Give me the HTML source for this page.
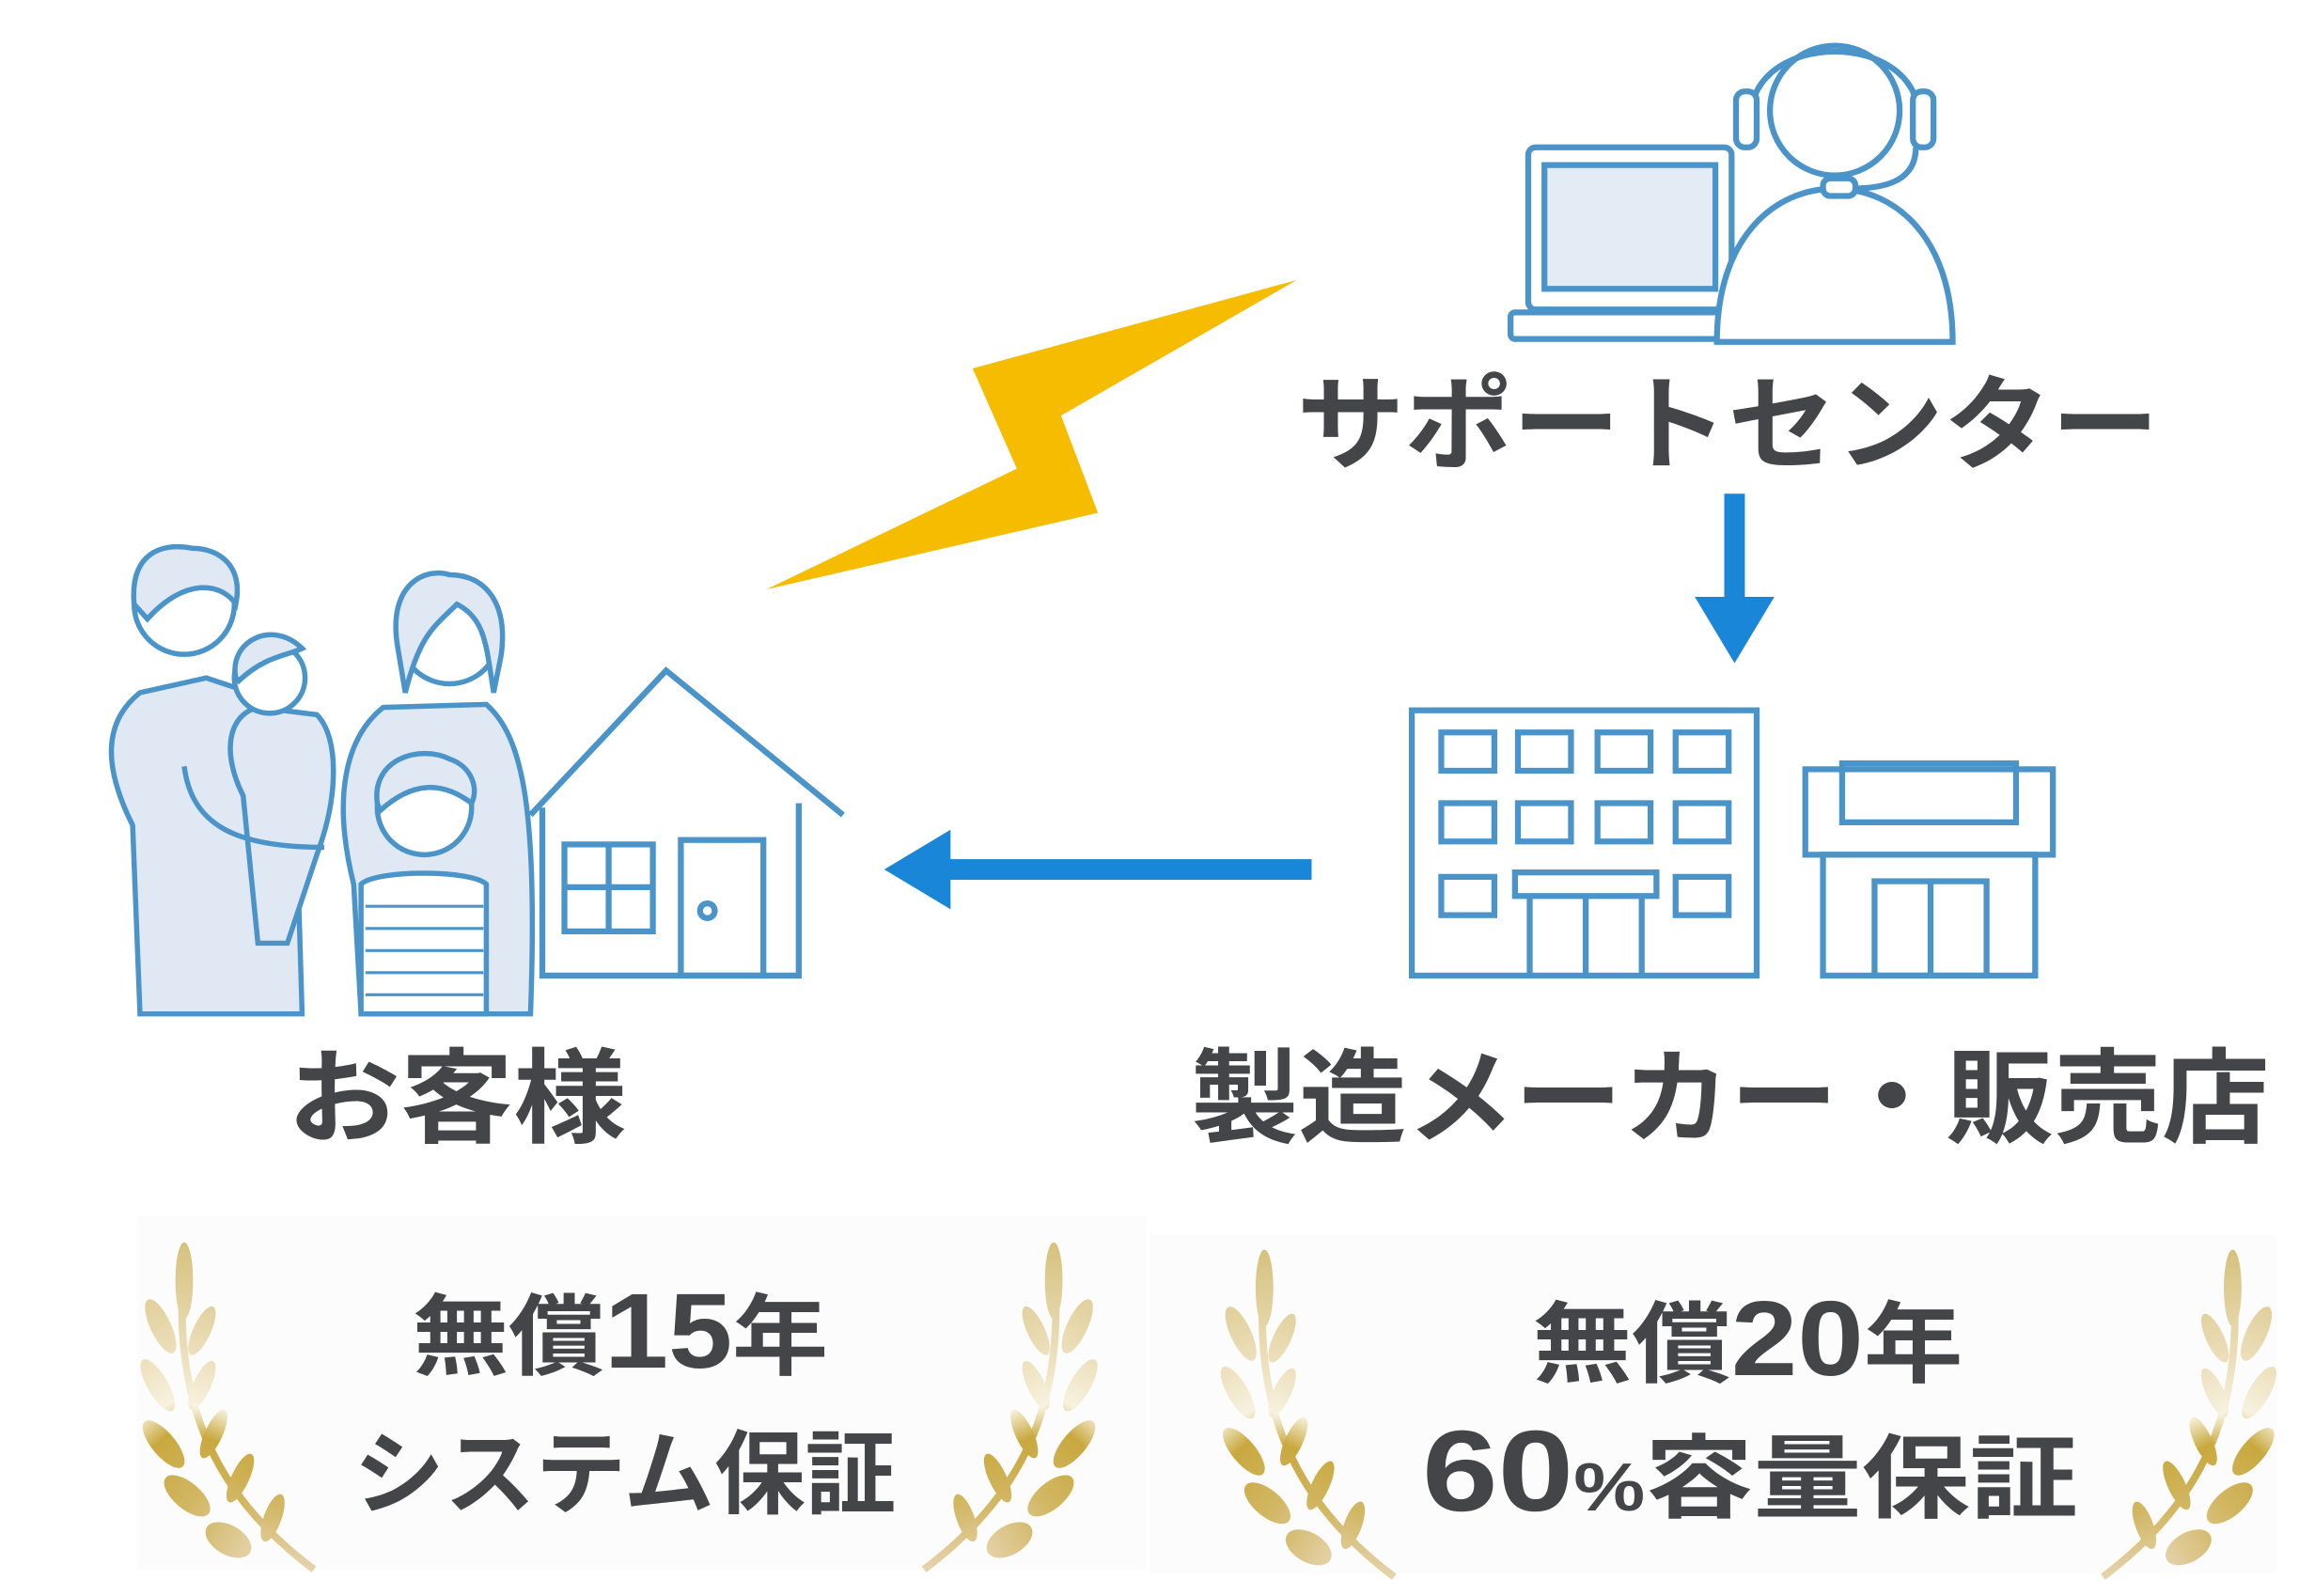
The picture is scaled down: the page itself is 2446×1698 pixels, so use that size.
<!DOCTYPE html>
<html><head><meta charset="utf-8"><style>
html,body{margin:0;padding:0;background:#fff;}
svg{display:block}
text{font-family:"Liberation Sans","Noto Sans CJK JP",sans-serif;font-weight:700;fill:#444548}
</style></head><body>
<svg width="2446" height="1698" viewBox="0 0 1560 1083" preserveAspectRatio="none" xmlns="http://www.w3.org/2000/svg">
<defs>
<linearGradient id="gold" gradientUnits="userSpaceOnUse" x1="0" y1="0" x2="0" y2="220">
<stop offset="0" stop-color="#d6c27f"/><stop offset="0.35" stop-color="#ede0bd"/>
<stop offset="0.5" stop-color="#f7f2de"/><stop offset="0.6" stop-color="#c9a83e"/>
<stop offset="0.8" stop-color="#d2b764"/><stop offset="1" stop-color="#e6d3ad"/>
</linearGradient>
<g id="laurel">
<path d="M30,10 C22,100 45,165 118,220" fill="none" stroke="url(#gold)" stroke-width="5"/>
<ellipse cx="30" cy="24" rx="6" ry="26" fill="url(#gold)"/>
<g fill="url(#gold)">
<ellipse cx="14" cy="55" rx="7" ry="20" transform="rotate(-25 14 55)"/>
<ellipse cx="42" cy="58" rx="6" ry="18" transform="rotate(25 42 58)"/>
<ellipse cx="12" cy="95" rx="7" ry="20" transform="rotate(-30 12 95)"/>
<ellipse cx="42" cy="95" rx="6" ry="18" transform="rotate(25 42 95)"/>
<ellipse cx="16" cy="135" rx="8" ry="20" transform="rotate(-40 16 135)"/>
<ellipse cx="50" cy="128" rx="6" ry="18" transform="rotate(25 50 128)"/>
<ellipse cx="32" cy="170" rx="9" ry="19" transform="rotate(-50 32 170)"/>
<ellipse cx="68" cy="158" rx="6" ry="18" transform="rotate(25 68 158)"/>
<ellipse cx="60" cy="200" rx="10" ry="17" transform="rotate(-60 60 200)"/>
<ellipse cx="90" cy="185" rx="6" ry="17" transform="rotate(20 90 185)"/>
</g>
</g>
</defs>
<rect width="1560" height="1083" fill="#fff"/>
<polygon points="880,190 660,250 690,318 520,400 745,348 720,282" fill="#f6bc00"/>
<g fill="none" stroke="#4b94c9" stroke-width="4">
<rect x="1037" y="100" width="138" height="110" rx="5" fill="#fff"/>
<rect x="1048" y="112" width="116" height="84" fill="#e3ebf5"/>
<rect x="1025" y="212" width="150" height="18" rx="3" fill="#fff"/>
<path d="M1165,232 C1165,160 1205,128 1245,128 C1285,128 1325,160 1325,232 Z" fill="#fff"/>
<circle cx="1245" cy="75" r="44" fill="#fff"/>
<path d="M1188,80 C1188,20 1302,20 1302,80"/>
<rect x="1178" y="62" width="14" height="38" rx="6" fill="#fff"/>
<rect x="1298" y="62" width="14" height="38" rx="6" fill="#fff"/>
<path d="M1300,100 C1300,125 1275,128 1255,128"/>
<rect x="1237" y="121" width="22" height="12" rx="5" fill="#fff"/>
</g>
<text x="880" y="313" font-size="70" textLength="585" lengthAdjust="spacingAndGlyphs">サポートセンター</text>
<rect x="1170" y="335" width="14" height="75" fill="#1a86d8"/>
<polygon points="1150,405 1204,405 1177,450" fill="#1a86d8"/>
<g fill="none" stroke="#4b94c9" stroke-width="4">
<rect x="958" y="482" width="234" height="180"/>
<g>
<rect x="978" y="497" width="36" height="26"/><rect x="1030" y="497" width="36" height="26"/><rect x="1084" y="497" width="36" height="26"/><rect x="1137" y="497" width="36" height="26"/>
<rect x="978" y="545" width="36" height="26"/><rect x="1030" y="545" width="36" height="26"/><rect x="1084" y="545" width="36" height="26"/><rect x="1137" y="545" width="36" height="26"/>
<rect x="978" y="595" width="36" height="26"/><rect x="1137" y="595" width="36" height="26"/>
</g>
<rect x="1028" y="592" width="96" height="16"/>
<path d="M1038,608 V662 M1114,608 V662 M1076,608 V662"/>
<rect x="1225" y="522" width="168" height="58"/>
<rect x="1250" y="518" width="118" height="40"/>
<rect x="1237" y="580" width="144" height="82"/>
<rect x="1272" y="598" width="76" height="64"/><path d="M1310,598 V662"/>
</g>
<rect x="640" y="583" width="250" height="14" fill="#1a86d8"/>
<polygon points="645,563 645,617 600,590" fill="#1a86d8"/>
<g fill="none" stroke="#4b94c9" stroke-width="4">
<path d="M360,553 L452,455 L572,553"/>
<path d="M368,548 V662 H542 V545"/>
<rect x="383" y="573" width="60" height="59"/><path d="M413,573 V632 M383,602 H443"/>
<rect x="462" y="570" width="56" height="92"/><circle cx="480" cy="618" r="5"/>
</g>
<g stroke="#4b94c9" stroke-width="3.5" fill="#dfe8f3">
<path d="M95,688 L90,560 C70,520 70,490 95,470 L140,460 L170,470 L200,520 L205,688 Z"/>
<circle cx="125" cy="410" r="34" fill="#fff"/>
<path d="M91,410 C88,375 110,368 130,372 C150,372 165,385 160,410 C150,395 125,392 100,420 Z"/>
<path d="M245,688 L240,600 C225,540 235,500 260,480 L330,478 C355,500 365,550 360,688 Z"/>
<circle cx="305" cy="430" r="34" fill="#fff"/>
<path d="M270,440 C262,395 290,385 305,390 C330,390 345,410 340,445 L335,470 C330,440 330,420 310,410 C295,425 285,430 275,470 Z"/>
<path d="M165,540 C150,510 155,485 175,480 L215,485 C230,500 230,540 215,580 L195,640 L175,640 Z"/>
<circle cx="183" cy="460" r="24" fill="#fff"/>
<path d="M160,460 C155,435 185,420 205,440 C195,445 180,445 162,462 Z"/>
<path d="M245,688 L245,600 C255,590 320,590 330,600 L330,688 Z" fill="#fff"/>
<path d="M248,615 H328 M248,630 H328 M248,645 H328 M248,660 H328 M248,675 H328" fill="none" stroke-width="2"/>
<circle cx="288" cy="548" r="32" fill="#fff"/>
<path d="M256,545 C252,515 285,505 305,515 C320,520 325,535 320,545 C300,530 280,530 258,550 Z"/>
<path d="M125,520 C130,560 160,575 220,575" fill="none"/>
</g>
<text x="195" y="770" font-size="70" textLength="230" lengthAdjust="spacingAndGlyphs">お客様</text>
<text x="808" y="770" font-size="70" textLength="732" lengthAdjust="spacingAndGlyphs">製造メーカー・販売店</text>
<rect x="93" y="825" width="685" height="240" fill="#fcfcfc"/>
<rect x="780" y="838" width="765" height="230" fill="#fcfcfc"/>
<use href="#laurel" x="95" y="845"/>
<use href="#laurel" transform="translate(745,845) scale(-1,1)"/>
<use href="#laurel" x="828" y="850"/>
<use href="#laurel" transform="translate(1545,850) scale(-1,1)"/>
<text x="280" y="928" font-size="60" textLength="282" lengthAdjust="spacingAndGlyphs">無償<tspan font-size="72">15</tspan>年</text>
<text x="240" y="1022" font-size="62" textLength="368" lengthAdjust="spacingAndGlyphs">システム保証</text>
<text x="1040" y="933" font-size="60" textLength="292" lengthAdjust="spacingAndGlyphs">無償<tspan font-size="72">20</tspan>年</text>
<text x="965" y="1025" font-size="62" textLength="445" lengthAdjust="spacingAndGlyphs"><tspan font-size="78">60</tspan><tspan font-size="46">%</tspan>容量保証</text>
</svg>
</body></html>
